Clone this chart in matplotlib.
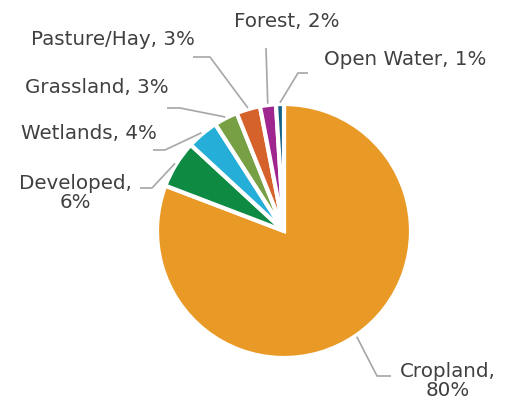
import numpy as np
import matplotlib
matplotlib.use('Agg')
import matplotlib.pyplot as plt

# land cover shares (percent)
labels = ['Cropland', 'Developed', 'Wetlands', 'Grassland', 'Pasture/Hay', 'Forest', 'Open Water']
shares = [80, 6, 4, 3, 3, 2, 1]
colors = ['#E99A26', '#0E8A43', '#25AED7', '#76A043', '#D5622A', '#A0268F', '#176185']

W, H = 511, 406
cx, cy, R = 284, 232, 127  # pie centre and radius in pixels


def px(x, y):
    # pixel position -> data coords (pie radius = 1)
    return (x - cx) / R, (cy - y) / R


fig = plt.figure(figsize=(W / 100, H / 100), dpi=100)
ax = fig.add_axes([0, 0, 1, 1])
ax.axis('off')

wedges, _ = ax.pie(shares, colors=colors, startangle=90, counterclock=False,
                   radius=1, center=(0, 0),
                   wedgeprops=dict(edgecolor='white', linewidth=3))
ax.set_xlim(-cx / R, (W - cx) / R)
ax.set_ylim(-(H - cy) / R, cy / R)
ax.set_aspect('equal')

# leader line elbows / ends and label anchors, in pixels
leaders = {
    'Cropland':    ([(377, 377), (391, 377)], (448, 381)),
    'Developed':   ([(152, 189), (140, 189)], (75, 193)),
    'Wetlands':    ([(165, 151), (153, 151)], (89, 134)),
    'Grassland':   ([(180, 109), (167, 109)], (97, 88)),
    'Pasture/Hay': ([(210, 58), (193, 58)], (113, 40)),
    'Forest':      ([(266, 49)], (287, 22)),
    'Open Water':  ([(298, 74), (308, 74)], (405, 60)),
}

for w, lab, val in zip(wedges, labels, shares):
    ang = np.deg2rad((w.theta1 + w.theta2) / 2)
    sx, sy = np.cos(ang) * 1.01, np.sin(ang) * 1.01
    pts, tpos = leaders[lab]
    xs = [sx] + [px(*p)[0] for p in pts]
    ys = [sy] + [px(*p)[1] for p in pts]
    ax.plot(xs, ys, color='#A6A6A6', lw=1.2, solid_capstyle='butt')
    if lab in ('Cropland', 'Developed'):
        txt = f'{lab},\n{val}%'
    else:
        txt = f'{lab}, {val}%'
    tx, ty = px(*tpos)
    ax.text(tx, ty, txt, ha='center', va='center', fontsize=14.3,
            color='#404040', linespacing=1.0)

fig.savefig('out.png', dpi=100)
